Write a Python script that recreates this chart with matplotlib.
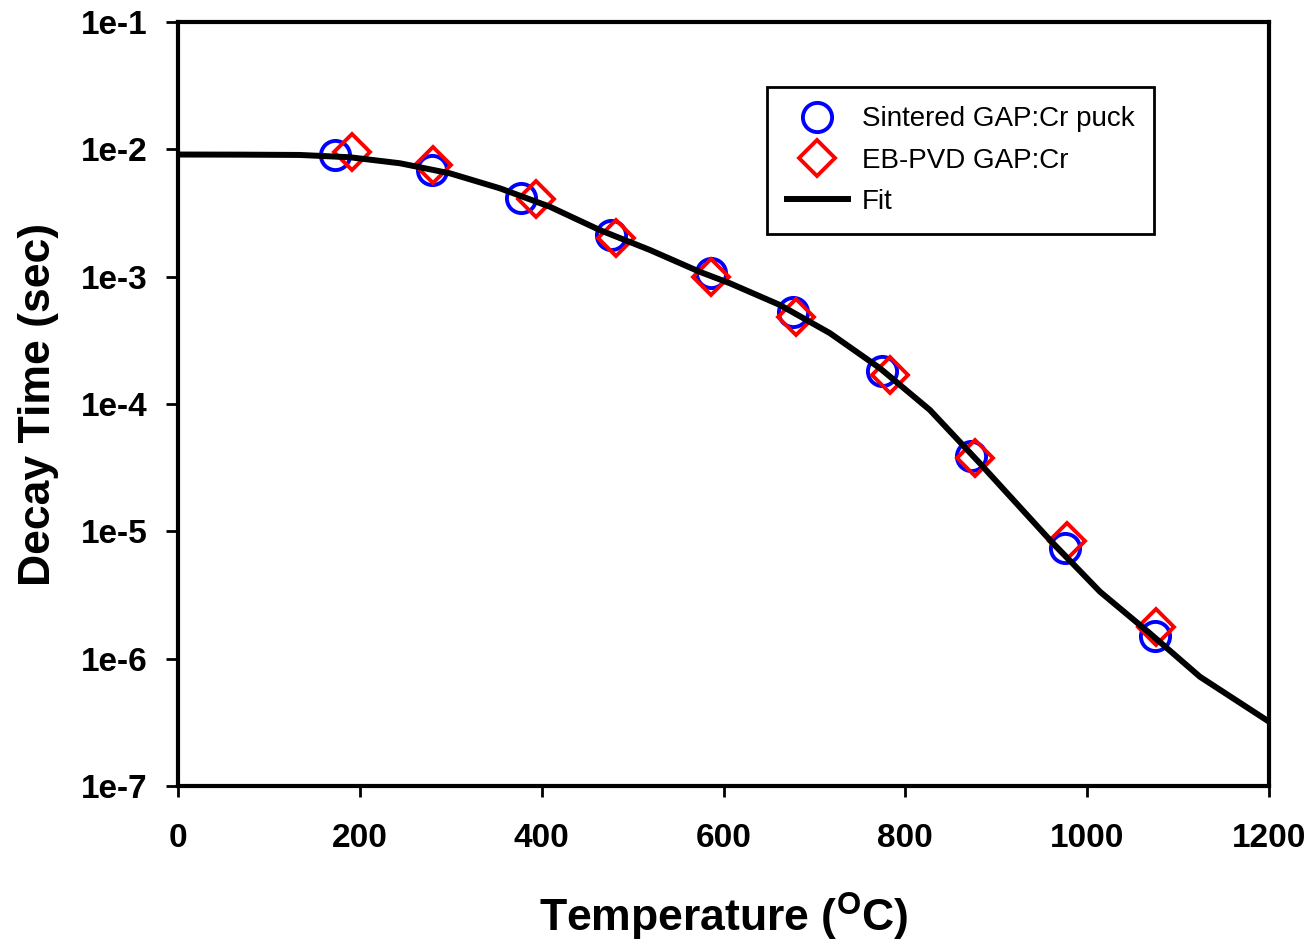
import numpy as np
import matplotlib
matplotlib.use("Agg")
import matplotlib.pyplot as plt

plt.rcParams['font.family'] = ['Liberation Sans', 'DejaVu Sans']
plt.rcParams['mathtext.fontset'] = 'custom'
plt.rcParams['mathtext.rm'] = 'Liberation Sans:bold'
plt.rcParams['mathtext.bf'] = 'Liberation Sans:bold'

# Sintered GAP:Cr puck
sintered_T = [173, 279, 377, 476, 586, 676, 774, 872, 976, 1075]
sintered_tau = [9.0e-3, 6.9e-3, 4.15e-3, 2.12e-3, 1.07e-3, 5.3e-4, 1.82e-4, 3.9e-5, 7.4e-6, 1.5e-6]

# EB-PVD GAP:Cr
ebpvd_T = [191, 280, 394, 482, 586, 680, 783, 877, 978, 1076]
ebpvd_tau = [9.5e-3, 7.5e-3, 4.07e-3, 2.0e-3, 9.9e-4, 4.8e-4, 1.69e-4, 3.77e-5, 8.4e-6, 1.77e-6]

# fit curve
fit_T = [0, 70, 134, 189, 244, 299, 354, 409, 464, 519, 574, 607, 662, 717,
         772, 827, 882, 904, 959, 1014, 1069, 1124, 1200]
fit_tau = [9.1e-3, 9.08e-3, 9.03e-3, 8.66e-3, 7.77e-3, 6.48e-3, 4.94e-3, 3.54e-3,
           2.32e-3, 1.62e-3, 1.09e-3, 8.87e-4, 5.99e-4, 3.6e-4, 1.91e-4, 8.97e-5,
           3.42e-5, 2.3e-5, 8.55e-6, 3.36e-6, 1.58e-6, 7.21e-7, 3.2e-7]

y_ticks = [1e-7, 1e-6, 1e-5, 1e-4, 1e-3, 1e-2, 1e-1]
y_labels = ['1e-7', '1e-6', '1e-5', '1e-4', '1e-3', '1e-2', '1e-1']
x_ticks = [0, 200, 400, 600, 800, 1000, 1200]

fig = plt.figure(figsize=(13.13, 9.43), dpi=100)
ax = fig.add_axes([0.1356, 0.1665, 0.8309, 0.8102])

ax.plot(sintered_T, sintered_tau, linestyle='none', marker='o', markersize=21,
        markerfacecolor='none', markeredgecolor='#0000ff', markeredgewidth=2.8,
        label='Sintered GAP:Cr puck', zorder=3)
ax.plot(ebpvd_T, ebpvd_tau, linestyle='none', marker='D', markersize=18,
        markerfacecolor='none', markeredgecolor='#ff0000', markeredgewidth=2.8,
        label='EB-PVD GAP:Cr', zorder=4)
ax.plot(fit_T, fit_tau, color='black', linewidth=4.3, label='Fit', zorder=5,
        solid_joinstyle='round')

ax.set_yscale('log')
ax.set_xlim(0, 1200)
ax.set_ylim(1e-7, 1e-1)
ax.set_yticks(y_ticks)
ax.set_yticklabels(y_labels)
ax.minorticks_off()
ax.set_xticks(x_ticks)
ax.set_xticklabels([str(t) for t in x_ticks])

for lab in ax.get_xticklabels() + ax.get_yticklabels():
    lab.set_fontsize(24)
    lab.set_fontweight('bold')

ax.tick_params(axis='x', direction='out', length=8, width=2, pad=19)
ax.tick_params(axis='y', direction='out', length=9, width=2, pad=13)
for s in ax.spines.values():
    s.set_linewidth(3)

ax.set_xlabel(r'Temperature ($^{\mathbf{O}}$C)', fontsize=32, fontweight='bold', labelpad=26)
ax.set_ylabel('Decay Time (sec)', fontsize=32, fontweight='bold', labelpad=16)

leg = ax.legend(loc='upper left', bbox_to_anchor=(0.540, 0.915), borderaxespad=0,
                fontsize=20, frameon=True, fancybox=False, edgecolor='black', framealpha=1,
                handlelength=2.2, labelspacing=0.55, borderpad=0.7, handletextpad=0.5)
leg.get_frame().set_linewidth(2)

fig.savefig('out.png', dpi=100, facecolor='white')
